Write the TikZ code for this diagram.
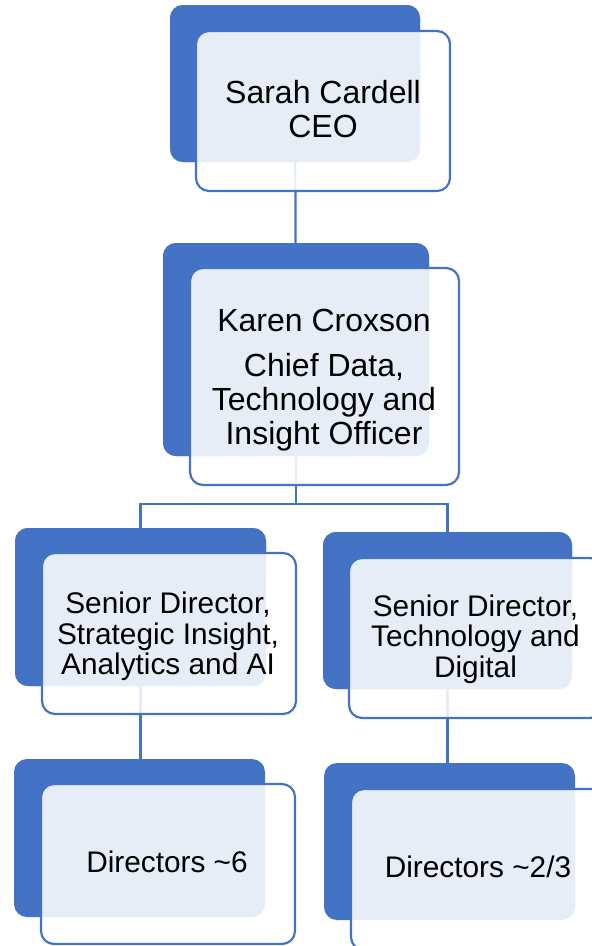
\documentclass[tikz,border=0pt]{standalone}
\usepackage{fontspec}
\setmainfont{Liberation Sans}
\definecolor{accblue}{HTML}{4472C4}
\begin{document}
\begin{tikzpicture}[x=1pt,y=-1pt,
  backbox/.style={rectangle, rounded corners=13pt, fill=accblue, draw=none, inner sep=0pt},
  frontbox/.style={rectangle, rounded corners=13pt, fill=white, fill opacity=0.875,
     draw=accblue, draw opacity=1, line width=2.2pt, inner sep=0pt},
  conn/.style={draw=accblue, line width=2.2pt},
  label/.style={align=center, text=black, inner sep=0pt},
  bigtext/.style={font=\fontsize{32}{34}\selectfont},
  smalltext/.style={font=\fontsize{29.8}{30.5}\selectfont}]
\useasboundingbox (0,0) rectangle (592,946);
\clip (0,0) rectangle (592,946);
% back boxes
\node[backbox, minimum width=250pt, minimum height=157pt] (ceoB) at (295,83.5) {};
\node[backbox, minimum width=266pt, minimum height=213pt] (karB) at (296,349.5) {};
\node[backbox, minimum width=251pt, minimum height=158pt] (sdlB) at (140.5,607) {};
\node[backbox, minimum width=249pt, minimum height=157pt] (sdrB) at (447.5,610.5) {};
\node[backbox, minimum width=251pt, minimum height=158pt] (dlB) at (139.5,838) {};
\node[backbox, minimum width=251pt, minimum height=157pt] (drB) at (449.5,841.5) {};
% connectors
\coordinate (split) at (296,504);
\draw[conn] (ceoB.center) -- (karB.center);
\draw[conn] (karB.center) -- (split);
\draw[conn] (split) -| (sdlB.north);
\draw[conn] (split) -| (sdrB.north);
\draw[conn] (sdlB.center) -- (sdlB.center |- dlB.north);
\draw[conn] (sdrB.center) -- (sdrB.center |- drB.north);
% back boxes again over connector segments inside them
\node[backbox, minimum width=250pt, minimum height=157pt] at (ceoB) {};
\node[backbox, minimum width=266pt, minimum height=213pt] at (karB) {};
\node[backbox, minimum width=251pt, minimum height=158pt] at (sdlB) {};
\node[backbox, minimum width=249pt, minimum height=157pt] at (sdrB) {};
% front boxes
\node[frontbox, minimum width=254pt, minimum height=160pt] (ceoF) at (323,111) {};
\node[frontbox, minimum width=269pt, minimum height=217pt] (karF) at (324.5,376.5) {};
\node[frontbox, minimum width=254pt, minimum height=161pt] (sdlF) at (169,633.5) {};
\node[frontbox, minimum width=254pt, minimum height=160pt] (sdrF) at (476,638) {};
\node[frontbox, minimum width=254pt, minimum height=160pt] (dlF) at (168,864) {};
\node[frontbox, minimum width=254pt, minimum height=161pt] (drF) at (478,869.5) {};
% texts
\node[label, bigtext] (ceoT) at (323,109) {Sarah Cardell\\CEO};
\node[label, bigtext] (karT) at (324,380) {Karen Croxson\\[11pt]Chief Data,\\Technology and\\Insight Officer};
\node[label, smalltext] (sdlT) at (168,636.5) {Senior Director,\\Strategic Insight,\\Analytics and AI};
\node[label, smalltext] (sdrT) at (475.5,639) {Senior Director,\\Technology and\\Digital};
\node[label, smalltext] (dlT) at (167,862) {Directors \textasciitilde6};
\node[label, smalltext] (drT) at (478,867) {Directors \textasciitilde2/3};
\end{tikzpicture}
\end{document}
